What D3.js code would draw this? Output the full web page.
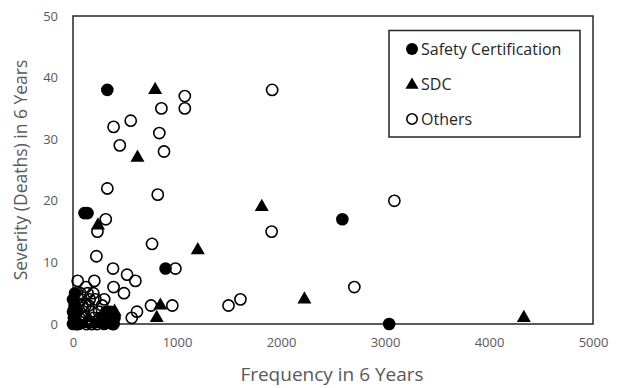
<!DOCTYPE html>
<html>
<head>
<meta charset="utf-8">
<script src="https://cdn.jsdelivr.net/npm/d3@7"></script>
<style>
  html, body { margin: 0; padding: 0; background: #fff; }
  svg { display: block; font-family: "Open Sans", "Noto Sans", sans-serif; }
</style>
</head>
<body>
<svg id="chart" width="620" height="388"></svg>
<script>
// Frequency (x) and severity in deaths (y) over six years, by group
const safetyCertX = [330, 110, 140, 890, 2590, 3040, 20, 0, 25, 55, 10, 40, 280, 320, 360, 400, 300, 380, 0, 340, 0, 15];
const safetyCertY = [38, 18, 18, 9, 17, 0, 5, 0, 0, 0, 1, 2, 1, 2, 2, 1, 0, 0, 4, 1, 2, 3];

const sdcX = [790, 620, 240, 1815, 1200, 840, 805, 2225, 4335, 400, 150, 200, 110];
const sdcY = [38, 27, 16, 19, 12, 3, 1, 4, 1, 2, 1, 0, 0];

const othersX = [1075, 1075, 850, 1915, 390, 555, 830, 450, 875, 330, 815, 235, 315, 225, 760,
                 1910, 985, 385, 520, 600, 390, 490, 750, 955, 1495, 1610, 615, 565, 390, 3090,
                 2705, 45, 205, 125, 195, 300, 50, 100, 80, 150, 250, 200, 100, 60, 130, 180,
                 230, 280, 30, 70, 160, 120, 40, 10, 260, 90, 175, 215, 20, 140];
const othersY = [37, 35, 35, 38, 32, 33, 31, 29, 28, 22, 21, 15, 17, 11, 13,
                 15, 9, 9, 8, 7, 6, 5, 3, 3, 3, 4, 2, 1, 0, 20,
                 6, 7, 7, 6, 5, 4, 3, 2, 4, 3, 2, 1, 1, 1, 0, 0,
                 0, 3, 2, 5, 4, 3, 0, 1, 1, 3, 2, 4, 3, 5];

const xTicks = [0, 1000, 2000, 3000, 4000, 5000];
const yTicks = [0, 10, 20, 30, 40, 50];
const seriesNames = ["Safety Certification", "SDC", "Others"];

const svg = d3.select("#chart");
const plot = { left: 73, top: 16, right: 593, bottom: 324 };

const x = d3.scaleLinear().domain([0, 5000]).range([plot.left, plot.right]);
const y = d3.scaleLinear().domain([0, 50]).range([plot.bottom, plot.top]);

const tickColor = "#595959";

// Plot frame
svg.append("rect")
  .attr("x", plot.left).attr("y", plot.top)
  .attr("width", plot.right - plot.left).attr("height", plot.bottom - plot.top)
  .attr("fill", "none").attr("stroke", "#262626").attr("stroke-width", 1.5);

// Axes (labels only, no tick marks)
const xAxis = svg.append("g")
  .attr("transform", `translate(0,${plot.bottom})`)
  .call(d3.axisBottom(x).tickValues(xTicks).tickSize(0).tickPadding(14).tickFormat(d3.format("d")));
const yAxis = svg.append("g")
  .attr("transform", `translate(${plot.left},0)`)
  .call(d3.axisLeft(y).tickValues(yTicks).tickSize(0).tickPadding(15).tickFormat(d3.format("d")));
[xAxis, yAxis].forEach(g => {
  g.select(".domain").remove();
  g.selectAll("text")
    .attr("fill", tickColor)
    .style("font-size", "13px")
    .style("font-family", "\"Open Sans\", \"Noto Sans\", sans-serif");
});

// Axis titles
svg.append("text")
  .attr("x", (plot.left + plot.right) / 2 - 1).attr("y", 381)
  .attr("text-anchor", "middle")
  .attr("fill", tickColor)
  .style("font-size", "19px")
  .text("Frequency in 6 Years");
svg.append("text")
  .attr("transform", `translate(27,${(plot.top + plot.bottom) / 2}) rotate(-90)`)
  .attr("text-anchor", "middle")
  .attr("fill", tickColor)
  .style("font-size", "17.5px")
  .text("Severity (Deaths) in 6 Years");

const r = 6.3;
const tri = d3.symbol().type(d3.symbolTriangle).size(85);

const pts = (xs, ys) => xs.map((v, i) => ({ x: v, y: ys[i] }));

// Safety Certification: filled circles
svg.append("g").selectAll("circle")
  .data(pts(safetyCertX, safetyCertY)).join("circle")
  .attr("cx", d => x(d.x)).attr("cy", d => y(d.y)).attr("r", r)
  .attr("fill", "#000");

// SDC: filled triangles
svg.append("g").selectAll("path")
  .data(pts(sdcX, sdcY)).join("path")
  .attr("d", tri)
  .attr("transform", d => `translate(${x(d.x)},${y(d.y)})`)
  .attr("fill", "#000");

// Others: open circles
svg.append("g").selectAll("circle")
  .data(pts(othersX, othersY)).join("circle")
  .attr("cx", d => x(d.x)).attr("cy", d => y(d.y)).attr("r", r - 0.7)
  .attr("fill", "none").attr("stroke", "#000").attr("stroke-width", 1.6);

// Legend
const legend = svg.append("g");
legend.append("rect")
  .attr("x", 389).attr("y", 30.5).attr("width", 191).attr("height", 106.5)
  .attr("fill", "#fff").attr("stroke", "#262626").attr("stroke-width", 1.5);
const rowsY = [49, 84, 119];
seriesNames.forEach((name, i) => {
  const cx = 412, cy = rowsY[i];
  if (i === 0) {
    legend.append("circle").attr("cx", cx).attr("cy", cy).attr("r", 6).attr("fill", "#000");
  } else if (i === 1) {
    legend.append("path").attr("d", d3.symbol().type(d3.symbolTriangle).size(75)())
      .attr("transform", `translate(${cx},${cy + 1})`).attr("fill", "#000");
  } else {
    legend.append("circle").attr("cx", cx).attr("cy", cy).attr("r", 5.2)
      .attr("fill", "none").attr("stroke", "#000").attr("stroke-width", 1.6);
  }
  legend.append("text")
    .attr("x", 421).attr("y", cy)
    .attr("dominant-baseline", "central")
    .attr("fill", "#262626")
    .style("font-size", "16px")
    .text(name);
});
</script>
</body>
</html>
